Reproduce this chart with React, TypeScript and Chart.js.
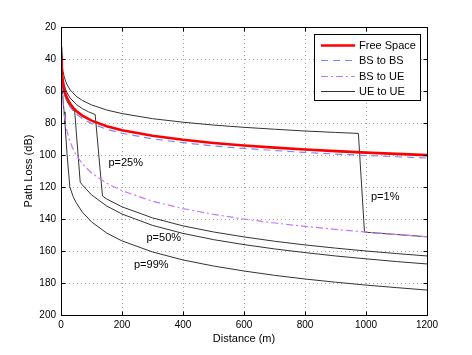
import React, { useEffect, useRef } from "react";
import { Chart, registerables } from "chart.js";

Chart.register(...registerables);

// ---------- data ----------
const baseDist = [1, 2, 3, 5, 7, 10, 15, 20, 30, 40, 50, 70, 100, 150, 200, 300, 400, 500, 600, 700, 800, 900, 1000, 1100, 1200];
const freeSpace = [38.5, 44.5, 48.0, 52.5, 55.4, 58.5, 62.0, 64.5, 68.0, 70.5, 72.5, 75.4, 78.5, 82.0, 84.5, 88.0, 90.5, 92.5, 94.1, 95.4, 96.6, 97.6, 98.5, 99.3, 100.1];
const bsToBs = [39.5, 45.7, 49.3, 54.0, 57.0, 60.2, 63.8, 66.3, 69.9, 72.4, 74.4, 77.3, 80.4, 83.9, 86.4, 89.9, 92.3, 94.3, 95.9, 97.2, 98.4, 99.4, 100.3, 101.1, 101.9];
const bsToUe = [37.0, 48.3, 54.8, 63.0, 68.5, 74.2, 80.7, 85.3, 91.9, 96.5, 100.1, 105.5, 111.2, 117.7, 122.3, 128.9, 133.5, 137.1, 140.0, 142.5, 144.6, 146.5, 148.2, 149.7, 151.1];

const ue1Dist = [1, 2, 3, 5, 7, 10, 15, 20, 30, 50, 70, 100, 150, 200, 300, 400, 500, 600, 700, 800, 900, 975, 995, 1100, 1200];
const ue1 = [32.7, 38.1, 41.3, 45.3, 47.9, 50.7, 53.9, 56.1, 59.3, 63.3, 65.9, 68.7, 71.9, 74.1, 77.3, 79.5, 81.3, 82.7, 83.9, 85.0, 85.9, 86.5, 148.2, 149.7, 151.1];

const ue25Dist = [1, 2, 3, 5, 7, 10, 15, 20, 30, 50, 70, 90, 112, 136, 150, 200, 300, 400, 500, 600, 700, 800, 900, 1000, 1100, 1200];
const ue25 = [37.8, 43.2, 46.4, 50.4, 53.0, 55.8, 59.0, 61.2, 64.4, 68.4, 71.0, 73.0, 74.7, 125.6, 127.5, 132.4, 139.3, 144.3, 148.1, 151.2, 153.9, 156.2, 158.2, 160.0, 161.6, 163.1];

const ue50Dist = [1, 2, 3, 5, 7, 10, 15, 20, 30, 45, 63, 70, 100, 150, 200, 300, 400, 500, 600, 700, 800, 900, 1000, 1100, 1200];
const ue50 = [43.0, 48.6, 51.8, 55.8, 58.4, 61.2, 64.4, 66.6, 69.8, 73.0, 117.0, 118.7, 124.9, 131.9, 136.9, 144.0, 149.0, 152.9, 156.0, 158.7, 161.0, 163.1, 164.9, 166.6, 168.1];

const ue99Dist = [1, 2, 3, 5, 7, 10, 13, 20, 29, 40, 50, 70, 100, 150, 200, 300, 400, 500, 600, 700, 800, 900, 1000, 1100, 1200];
const ue99 = [36.0, 45.0, 51.0, 60.0, 66.0, 73.0, 80.0, 100.0, 120.0, 126.1, 129.9, 135.7, 141.8, 148.8, 153.7, 160.6, 165.6, 169.4, 172.5, 175.2, 177.5, 179.5, 181.3, 182.9, 184.4];

const xTicks = { min: 0, max: 1200, step: 200 };
const yTicks = { min: 20, max: 200, step: 20 };

const annotationTexts = ["p=25%", "p=50%", "p=99%", "p=1%"];
const annotationX = [212, 337, 296, 1063];
const annotationY = [104.9, 152.1, 168.8, 126.3];

const FONT = "'Liberation Sans', Arial, Helvetica, sans-serif";

const toPts = (xs: number[], ys: number[]) => xs.map((x, i) => ({ x, y: ys[i] }));

const matlabPlugin = {
  id: "matlabAxes",
  beforeDatasetsDraw(chart: any) {
    const { ctx, chartArea: a, scales } = chart;
    const x = scales.x, y = scales.y;
    ctx.save();
    ctx.strokeStyle = "#a8a8a8";
    ctx.lineWidth = 1;
    ctx.setLineDash([1, 3]);
    for (let v = xTicks.min + xTicks.step; v < xTicks.max; v += xTicks.step) {
      const px = Math.round(x.getPixelForValue(v)) + 0.5;
      ctx.beginPath();
      ctx.moveTo(px, a.top);
      ctx.lineTo(px, a.bottom);
      ctx.stroke();
    }
    for (let v = yTicks.min + yTicks.step; v < yTicks.max; v += yTicks.step) {
      const py = Math.round(y.getPixelForValue(v)) + 0.5;
      ctx.beginPath();
      ctx.moveTo(a.left, py);
      ctx.lineTo(a.right, py);
      ctx.stroke();
    }
    ctx.restore();
  },
  afterDatasetsDraw(chart: any) {
    const { ctx, chartArea: a, scales } = chart;
    const x = scales.x, y = scales.y;
    ctx.save();
    // box
    ctx.setLineDash([]);
    ctx.strokeStyle = "#000";
    ctx.lineWidth = 1;
    const L = Math.round(a.left) + 0.5, T = Math.round(a.top) + 0.5;
    const R = Math.round(a.right) + 0.5, B = Math.round(a.bottom) + 0.5;
    ctx.strokeRect(L, T, R - L, B - T);
    // inward ticks
    const tl = 4;
    ctx.beginPath();
    for (let v = xTicks.min; v <= xTicks.max; v += xTicks.step) {
      const px = Math.round(x.getPixelForValue(v)) + 0.5;
      ctx.moveTo(px, B); ctx.lineTo(px, B - tl);
      ctx.moveTo(px, T); ctx.lineTo(px, T + tl);
    }
    for (let v = yTicks.min; v <= yTicks.max; v += yTicks.step) {
      const py = Math.round(y.getPixelForValue(v)) + 0.5;
      ctx.moveTo(L, py); ctx.lineTo(L + tl, py);
      ctx.moveTo(R, py); ctx.lineTo(R - tl, py);
    }
    ctx.stroke();

    // annotations
    ctx.fillStyle = "#000";
    ctx.font = `11px ${FONT}`;
    ctx.textAlign = "center";
    ctx.textBaseline = "middle";
    annotationTexts.forEach((t, i) => {
      ctx.fillText(t, x.getPixelForValue(annotationX[i]), y.getPixelForValue(annotationY[i]));
    });

    // legend
    const bx = 314.5, by = 34.5, bw = 106, bh = 66;
    ctx.fillStyle = "#fff";
    ctx.fillRect(bx, by, bw, bh);
    ctx.strokeStyle = "#000";
    ctx.lineWidth = 1;
    ctx.strokeRect(bx, by, bw, bh);
    const seen: string[] = [];
    const entries: any[] = [];
    chart.data.datasets.forEach((ds: any) => {
      if (!seen.includes(ds.label)) { seen.push(ds.label); entries.push(ds); }
    });
    entries.forEach((ds, i) => {
      const cy = Math.round(45 + i * 15.3) + 0.5;
      ctx.save();
      ctx.strokeStyle = ds.borderColor;
      ctx.lineWidth = ds.borderWidth;
      ctx.setLineDash(ds.borderDash || []);
      ctx.beginPath();
      ctx.moveTo(321, cy);
      ctx.lineTo(355, cy);
      ctx.stroke();
      ctx.restore();
      ctx.fillStyle = "#000";
      ctx.font = `11px ${FONT}`;
      ctx.textAlign = "left";
      ctx.textBaseline = "middle";
      ctx.fillText(ds.label, 359, cy);
    });
    ctx.restore();
  },
};

export default function App() {
  const ref = useRef<HTMLCanvasElement | null>(null);
  useEffect(() => {
    document.body.style.margin = "0";
    const canvas = ref.current!;
    const black = "#333333";
    const chart = new Chart(canvas, {
      type: "line",
      data: {
        datasets: [
          { label: "Free Space", data: toPts(baseDist, freeSpace), borderColor: "#ff0000", borderWidth: 2.6, borderDash: [] },
          { label: "BS to BS", data: toPts(baseDist, bsToBs), borderColor: "rgb(110,140,250)", borderWidth: 1.2, borderDash: [7, 5] },
          { label: "BS to UE", data: toPts(baseDist, bsToUe), borderColor: "rgb(200,120,255)", borderWidth: 1.2, borderDash: [7, 3, 2, 3] },
          { label: "UE to UE", data: toPts(ue1Dist, ue1), borderColor: black, borderWidth: 1, borderDash: [] },
          { label: "UE to UE", data: toPts(ue25Dist, ue25), borderColor: black, borderWidth: 1, borderDash: [] },
          { label: "UE to UE", data: toPts(ue50Dist, ue50), borderColor: black, borderWidth: 1, borderDash: [] },
          { label: "UE to UE", data: toPts(ue99Dist, ue99), borderColor: black, borderWidth: 1, borderDash: [] },
        ] as any,
      },
      options: {
        animation: false,
        responsive: false,
        devicePixelRatio: 1,
        layout: { padding: { left: 0, top: 27, right: 45, bottom: 0 } },
        elements: { point: { radius: 0 }, line: { tension: 0 } },
        plugins: { legend: { display: false }, tooltip: { enabled: false } },
        scales: {
          x: {
            type: "linear",
            min: xTicks.min,
            max: xTicks.max,
            ticks: { stepSize: xTicks.step, color: "#000", font: { family: FONT, size: 10 }, padding: 4, maxRotation: 0, autoSkip: false, callback: (v: any) => String(v) },
            grid: { display: false, drawTicks: false },
            border: { display: false },
            title: { display: true, text: "Distance (m)", color: "#000", font: { family: FONT, size: 11 }, padding: { top: 0, bottom: 9 } },
            afterFit: (s: any) => { s.height = 40; },
          },
          y: {
            type: "linear",
            reverse: true,
            min: yTicks.min,
            max: yTicks.max,
            ticks: { stepSize: yTicks.step, color: "#000", font: { family: FONT, size: 10 }, padding: 5, autoSkip: false, callback: (v: any) => String(v) },
            grid: { display: false, drawTicks: false },
            border: { display: false },
            title: { display: true, text: "Path Loss (dB)", color: "#000", font: { family: FONT, size: 11 }, padding: { top: 22, bottom: 0 } },
            afterFit: (s: any) => { s.width = 61; },
          },
        },
      } as any,
      plugins: [matlabPlugin as any],
    });
    return () => chart.destroy();
  }, []);
  return (
    <canvas ref={ref} width={472} height={355} style={{ display: "block", position: "absolute", left: 0, top: 0 }} />
  );
}
